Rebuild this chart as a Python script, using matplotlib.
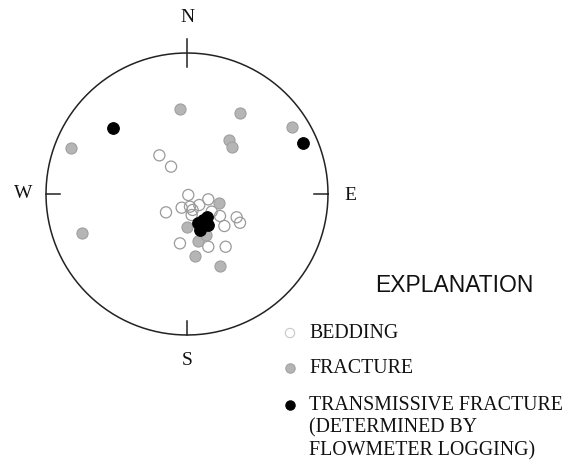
import matplotlib.pyplot as plt
import numpy as np

# poles on the stereonet, in units of the net radius (x east, y north)
bedding_x = [-0.196, -0.113, 0.009, 0.151, -0.149, -0.038, 0.087, 0.040, 0.234, 0.352,
             0.376, 0.265, -0.050, 0.151, 0.274, 0.021, 0.033, 0.175]
bedding_y = [0.274, 0.194, -0.007, -0.038, -0.130, -0.097, -0.078, -0.113, -0.156, -0.165,
             -0.204, -0.227, -0.350, -0.374, -0.374, -0.090, -0.149, -0.125]

fracture_x = [-0.050, 0.378, 0.745, 0.298, 0.317, -0.823, -0.747, 0.227, -0.002, 0.076,
              0.133, 0.057, 0.234]
fracture_y = [0.601, 0.577, 0.475, 0.383, 0.335, 0.324, -0.274, -0.066, -0.232, -0.333,
              -0.291, -0.440, -0.509]

transmissive_x = [-0.523, 0.825, 0.080, 0.140, 0.151, 0.092, 0.113]
transmissive_y = [0.468, 0.360, -0.208, -0.161, -0.220, -0.255, -0.184]

directions = ['N', 'E', 'S', 'W']
legend_labels = ['BEDDING', 'FRACTURE',
                 'TRANSMISSIVE FRACTURE\n(DETERMINED BY\nFLOWMETER LOGGING)']

fig = plt.figure(figsize=(5.68, 4.63), dpi=100)
ax = fig.add_axes([0, 0, 1, 1])
# pixel layout: centre of net at (187, 194), radius 141 px
ax.set_xlim(-187 / 141, (568 - 187) / 141)
ax.set_ylim((194 - 463) / 141, 194 / 141)
ax.set_aspect('equal')
ax.axis('off')

t = np.linspace(0, 2 * np.pi, 400)
ax.plot(np.cos(t), np.sin(t), color='#222222', lw=1.1)

# ticks at the cardinal points
ax.plot([0, 0], [1.1, 0.9], color='#222222', lw=1.1)
ax.plot([0, 0], [-1.0, -0.9], color='#222222', lw=1.1)
ax.plot([-1.0, -0.9], [0, 0], color='#222222', lw=1.1)
ax.plot([1.0, 0.9], [0, 0], color='#222222', lw=1.1)

serif = 'Liberation Serif'
pos = {'N': (0, 1.25), 'E': (1.16, -0.01), 'S': (0, -1.18), 'W': (-1.16, 0.005)}
for d in directions:
    ax.text(pos[d][0], pos[d][1], d, family=serif, fontsize=14,
            ha='center', va='center', color='#111111')

ax.scatter(bedding_x, bedding_y, s=64, facecolors='none', edgecolors='#9a9a9a',
           linewidths=0.9, zorder=3)
ax.scatter(fracture_x, fracture_y, s=64, facecolors='#b5b5b5', edgecolors='#a0a0a0',
           linewidths=0.8, zorder=4)
ax.scatter(transmissive_x, transmissive_y, s=70, facecolors='black', edgecolors='black',
           linewidths=0.8, zorder=5)

# explanation
ax.text((454 - 187) / 141, (194 - 286) / 141, 'EXPLANATION', family='Liberation Sans',
        fontsize=16.5, ha='center', va='center', color='#111111')

leg_y = [(194 - 333) / 141, (194 - 368) / 141, (194 - 405) / 141]
leg_style = [dict(facecolors='none', edgecolors='#c8c8c8'),
             dict(facecolors='#b5b5b5', edgecolors='#a0a0a0'),
             dict(facecolors='black', edgecolors='black')]
for yy, lab, st in zip(leg_y, legend_labels, leg_style):
    ax.scatter([(290 - 187) / 141], [yy], s=45, linewidths=0.8, **st)
    ax.text((309 - 187) / 141, yy + 0.065, lab, family=serif, fontsize=14.3,
            ha='left', va='top', color='#111111', linespacing=1.24)

fig.savefig('out.png', dpi=100)
